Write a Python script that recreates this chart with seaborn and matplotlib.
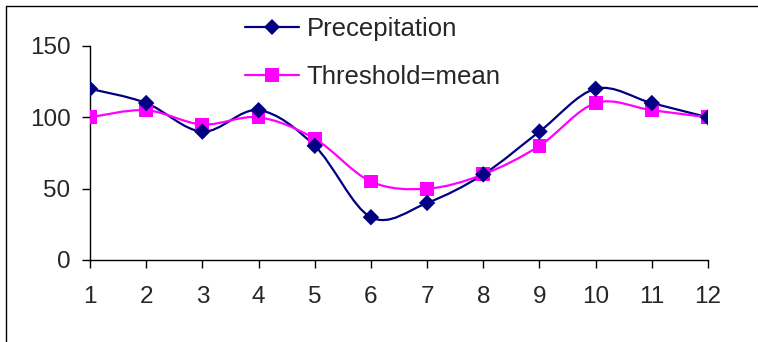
import numpy as np
import pandas as pd
import matplotlib
matplotlib.use("Agg")
import matplotlib.pyplot as plt
import seaborn as sns
from matplotlib.path import Path
from matplotlib.patches import PathPatch
from matplotlib.lines import Line2D

months = [1, 2, 3, 4, 5, 6, 7, 8, 9, 10, 11, 12]
precipitation = [120, 110, 90, 105, 80, 30, 40, 60, 90, 120, 110, 100]
threshold = [100, 105, 95, 100, 85, 55, 50, 60, 80, 110, 105, 100]
y_ticks = [0, 50, 100, 150]
labels = ["Precepitation", "Threshold=mean"]

sns.set_style("white")
plt.rcParams['font.family'] = ['Liberation Sans', 'DejaVu Sans']

W, H = 758, 342
fig = plt.figure(figsize=(W / 100, H / 100), dpi=100)
ax = fig.add_axes([90 / W, 1 - 260 / H, (708 - 90) / W, (260 - 46) / H])


def smooth_path(xs, ys):
    pts = np.column_stack([xs, ys]).astype(float)
    n = len(pts)
    verts = [pts[0]]
    codes = [Path.MOVETO]
    for i in range(n - 1):
        p0 = pts[i - 1] if i > 0 else pts[i]
        p1 = pts[i]
        p2 = pts[i + 1]
        p3 = pts[i + 2] if i + 2 < n else pts[i + 1]
        c1 = p1 + (p2 - p0) / 6.0
        c2 = p2 - (p3 - p1) / 6.0
        verts += [c1, c2, p2]
        codes += [Path.CURVE4] * 3
    return Path(verts, codes)


series = [
    (precipitation, "#000080"),
    (threshold, "#FF00FF"),
]
for vals, col in series:
    ax.add_patch(PathPatch(smooth_path(months, vals), fill=False, edgecolor=col,
                           lw=1.6, transform=ax.transData, zorder=2))

df = pd.DataFrame({"month": months * 2,
                   "value": precipitation + threshold,
                   "series": [labels[0]] * 12 + [labels[1]] * 12})
sns.scatterplot(data=df[df.series == labels[1]], x="month", y="value", ax=ax,
                marker="s", s=100, color="#FF00FF", edgecolor="none", zorder=3, legend=False)
sns.scatterplot(data=df[df.series == labels[0]], x="month", y="value", ax=ax,
                marker="D", s=70, color="#000080", edgecolor="none", zorder=4, legend=False)

ax.set_xlim(1, 12)
ax.set_ylim(0, 150)
ax.set_xticks(months)
ax.set_xticklabels([str(m) for m in months])
ax.set_yticks(y_ticks)
ax.set_yticklabels([str(v) for v in y_ticks])
ax.set_xlabel("")
ax.set_ylabel("")
for s in ["top", "right"]:
    ax.spines[s].set_visible(False)
for s in ["left", "bottom"]:
    ax.spines[s].set_color("black")
    ax.spines[s].set_linewidth(1.0)
ax.tick_params(axis="both", which="major", direction="out", length=6, width=1,
               color="black", labelsize=17.5, bottom=True, left=True)
ax.tick_params(axis="x", pad=13)
ax.tick_params(axis="y", pad=8)
for sp in ax.spines.values():
    sp.set_clip_on(False)

handles = [
    Line2D([], [], color="#000080", lw=1.6, marker="D", markersize=8.5, markeredgewidth=0),
    Line2D([], [], color="#FF00FF", lw=1.6, marker="s", markersize=10, markeredgewidth=0),
]
fig.legend(handles, labels, loc="upper left", bbox_to_anchor=(245 / W, 1 - 17 / H),
           frameon=False, fontsize=18.5, handlelength=2.1, handletextpad=0.3,
           labelspacing=0.95, borderpad=0, borderaxespad=0)

# figure border (left and top visible)
fig.add_artist(Line2D([6 / W, 6 / W], [0, 1 - 6 / H], transform=fig.transFigure,
                      color="black", lw=1))
fig.add_artist(Line2D([6 / W, 1], [1 - 6 / H, 1 - 6 / H], transform=fig.transFigure,
                      color="black", lw=1))

fig.savefig("out.png", dpi=100)
